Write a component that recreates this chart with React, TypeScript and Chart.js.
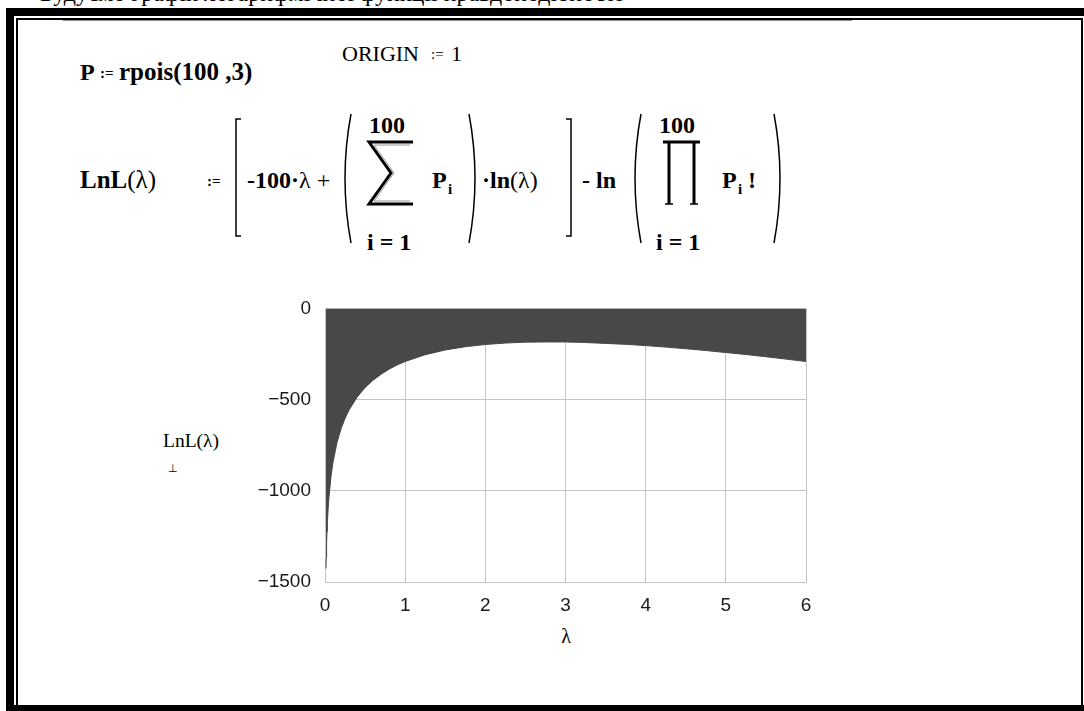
import React, { useEffect, useRef } from "react";
import { Chart, registerables } from "chart.js";

Chart.register(...registerables);

// λ sample points and the log-likelihood LnL(λ) at each of them
const lambdaValues = [
  0.012, 0.015, 0.02, 0.025, 0.03, 0.04, 0.05, 0.075, 0.1, 0.15, 0.2, 0.25,
  0.3, 0.4, 0.5, 0.6, 0.7, 0.8, 0.9, 1.0, 1.25, 1.5, 1.75, 2.0, 2.25, 2.5,
  2.75, 3.0, 3.25, 3.5, 3.75, 4.0, 4.25, 4.5, 4.75, 5.0, 5.25, 5.5, 5.75, 6.0,
];
const lnLValues = [
  -1426, -1364, -1285, -1223, -1172, -1093, -1032, -921, -843, -735, -660,
  -603, -557, -487, -434, -394, -361, -333, -310, -291, -254, -228, -210,
  -198, -190, -185, -184, -184, -187, -192, -197, -204, -212, -221, -231,
  -242, -253, -265, -278, -291,
];

// axis ticks
const xTicks = [0, 1, 2, 3, 4, 5, 6];
const yTicks = [0, -500, -1000, -1500];

const serif = '"Liberation Serif", "Times New Roman", serif';
const tickFont = { family: '"Liberation Sans", Arial, sans-serif', size: 19 };

function Formulas() {
  const b = { fontFamily: serif, fontWeight: 700, fontSize: 24, fill: "#000" } as const;
  const r = { fontFamily: serif, fontWeight: 400, fontSize: 24, fill: "#000" } as const;
  const assign = { fontFamily: serif, fontWeight: 700, fontSize: 15, fill: "#000" } as const;
  const sub = { fontFamily: serif, fontWeight: 700, fontSize: 15, fill: "#000" } as const;
  const line = { stroke: "#000", strokeWidth: 1.5, fill: "none" } as const;
  return (
    <svg
      width={1084}
      height={711}
      style={{ position: "absolute", left: 0, top: 0 }}
    >
      {/* line of text above the worksheet region */}
      <text x={40} y={1} style={{ fontFamily: serif, fontSize: 24 }}>
        Будуємо графік логарифмічної функції правдоподібності
      </text>

      {/* worksheet frame */}
      <rect x={6} y={8} width={1078} height={8} fill="#000" />
      <rect x={6} y={8} width={8} height={703} fill="#000" />
      <rect x={6} y={705} width={1078} height={6} fill="#000" />
      <rect x={16} y={18} width={1067} height={2} fill="#000" />
      <rect x={16} y={18} width={2} height={690} fill="#000" />
      <rect x={1081} y={18} width={2} height={690} fill="#000" />
      <rect x={63} y={20} width={789} height={1} fill="#888" />

      {/* P := rpois(100,3)      ORIGIN := 1 */}
      <text x={80} y={80} style={b}>P</text>
      <text x={100} y={78} style={assign}>:=</text>
      <text x={119} y={80} style={{ ...b, fontSize: 25 }}>
        rpois(100 ,3)
      </text>
      <text x={342} y={61} style={{ ...r, fontSize: 22 }}>ORIGIN</text>
      <text x={431} y={59} style={{ ...assign, fontWeight: 400 }}>:=</text>
      <text x={451} y={61} style={{ ...r, fontSize: 22 }}>1</text>

      {/* LnL(λ) := [ -100·λ + (Σ P_i)·ln(λ) ] - ln(Π P_i!) */}
      <text x={80} y={188}>
        <tspan style={{ ...b, fontSize: 25 }}>LnL</tspan>
        <tspan style={{ ...r, fontSize: 25 }}>(λ)</tspan>
      </text>
      <text x={207} y={186} style={assign}>:=</text>

      <path d="M241,119 H236 V236 H241" {...line} />
      <text x={247} y={188}>
        <tspan style={b}>-100·</tspan>
        <tspan style={r}>λ +</tspan>
      </text>

      <path d="M351,114 Q339,178 351,243" {...line} />
      <text x={369} y={133} style={b}>100</text>
      <path d="M413,142 H369 L391,173 L369,204 H413" stroke="#000" strokeWidth={3} fill="none" />
      <path d="M410,145 H374 L394,173 L374,201 H410" stroke="#999" strokeWidth={1} fill="none" />
      <text x={367} y={250} style={b}>i = 1</text>
      <text x={432} y={188} style={b}>P</text>
      <text x={448} y={194} style={sub}>i</text>
      <path d="M469,114 Q481,178 469,243" {...line} />

      <text x={482} y={188}>
        <tspan style={b}>·ln</tspan>
        <tspan style={r}>(λ)</tspan>
      </text>
      <path d="M566,119 H571 V236 H566" {...line} />

      <text x={582} y={188} style={b}>- ln</text>
      <path d="M641,114 Q629,178 641,243" {...line} />
      <text x={659} y={133} style={b}>100</text>
      <path d="M663,142 H700" stroke="#000" strokeWidth={3} fill="none" />
      <path d="M669,142 V204 M694,142 V204" stroke="#000" strokeWidth={3} fill="none" />
      <path d="M665,204 H673 M690,204 H698" {...line} />
      <text x={656} y={250} style={b}>i = 1</text>
      <text x={722} y={188} style={b}>P</text>
      <text x={738} y={194} style={sub}>i</text>
      <text x={748} y={188} style={b}>!</text>
      <path d="M774,114 Q786,178 774,243" {...line} />

      {/* axis titles */}
      <text x={163} y={447} style={{ ...r, fontSize: 19.5 }}>LnL(λ)</text>
      <text x={168} y={472} style={{ ...r, fontSize: 11 }}>⊥</text>
      <text x={566} y={643} textAnchor="middle" style={{ ...r, fontSize: 20 }}>λ</text>
    </svg>
  );
}

export default function App() {
  const canvasRef = useRef<HTMLCanvasElement>(null);

  useEffect(() => {
    const canvas = canvasRef.current;
    if (!canvas) return;
    const chart = new Chart(canvas, {
      type: "line",
      data: {
        datasets: [
          {
            data: lambdaValues.map((x, i) => ({ x, y: lnLValues[i] })),
            fill: "end",
            backgroundColor: "#484848",
            borderColor: "#484848",
            borderWidth: 1,
            pointRadius: 0,
            tension: 0,
          },
        ],
      },
      options: {
        animation: false,
        responsive: false,
        events: [],
        layout: { padding: { top: 15, right: 19, left: 0, bottom: 0 } },
        plugins: { legend: { display: false }, tooltip: { enabled: false } },
        scales: {
          x: {
            type: "linear",
            min: 0,
            max: 6,
            afterBuildTicks: (scale: any) => {
              scale.ticks = xTicks.map((value) => ({ value }));
            },
            afterFit: (scale: any) => {
              scale.height = 41;
            },
            grid: { color: "#c4c4c4", lineWidth: 1, drawTicks: false },
            border: { color: "#c4c4c4" },
            ticks: {
              padding: 12,
              color: "#1a1a1a",
              font: tickFont,
              maxRotation: 0,
              callback: (v: any) => String(v),
            },
          },
          y: {
            type: "linear",
            min: -1500,
            max: 0,
            afterBuildTicks: (scale: any) => {
              scale.ticks = yTicks.map((value) => ({ value }));
            },
            afterFit: (scale: any) => {
              scale.width = 100;
            },
            grid: { color: "#c4c4c4", lineWidth: 1, drawTicks: false },
            border: { color: "#c4c4c4" },
            ticks: {
              padding: 14,
              color: "#1a1a1a",
              font: tickFont,
              callback: (v: any) => String(v).replace("-", "\u2212"),
            },
          },
        },
      },
    });
    return () => chart.destroy();
  }, []);

  return (
    <div
      style={{
        position: "absolute",
        left: 0,
        top: 0,
        width: 1084,
        height: 711,
        overflow: "hidden",
        background: "#fff",
      }}
    >
      <Formulas />
      <div style={{ position: "absolute", left: 225, top: 283, width: 600, height: 340 }}>
        <canvas ref={canvasRef} width={600} height={340} style={{ display: "block" }} />
      </div>
    </div>
  );
}
